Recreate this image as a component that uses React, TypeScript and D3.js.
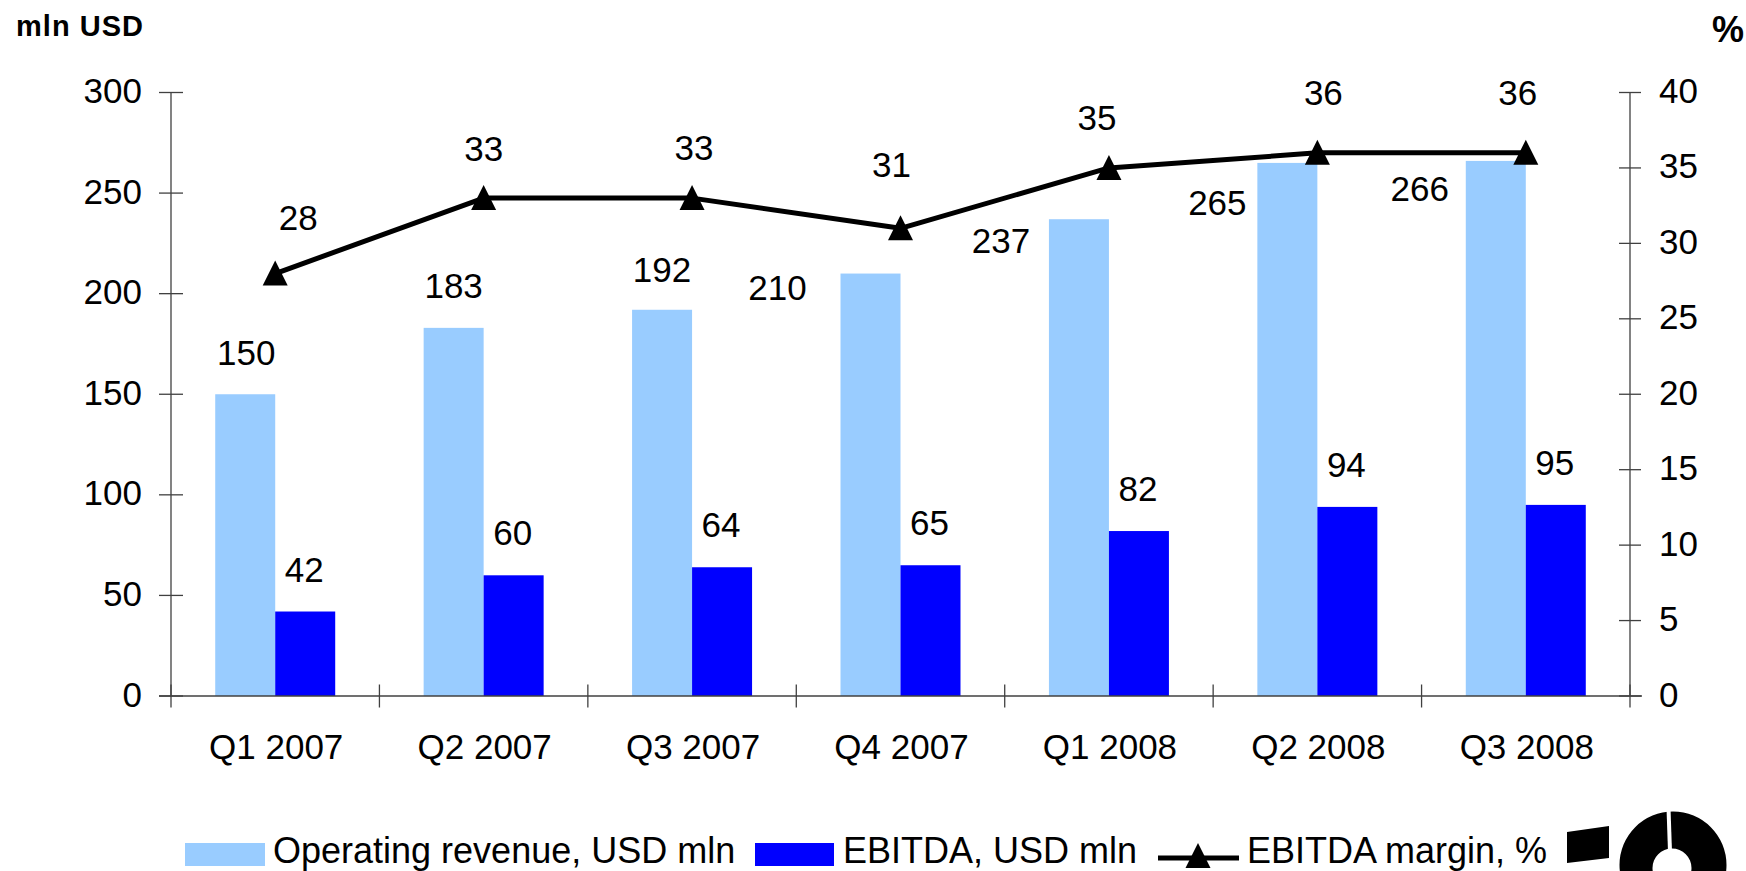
import React from 'react';
import * as d3 from 'd3';

const categories = ['Q1 2007', 'Q2 2007', 'Q3 2007', 'Q4 2007', 'Q1 2008', 'Q2 2008', 'Q3 2008'];
const revenue = [150, 183, 192, 210, 237, 265, 266];
const ebitda = [42, 60, 64, 65, 82, 94, 95];
const margin = [28, 33, 33, 31, 35, 36, 36];
const leftTicks = [0, 50, 100, 150, 200, 250, 300];
const rightTicks = [0, 5, 10, 15, 20, 25, 30, 35, 40];
const seriesKeys = ['rev', 'ebitda'];

// label nudges (pixels) as placed in the original
const revenueLabelNudge = [[1, -42], [0, -42], [0, -40], [-93, 14], [-78, 21], [-70, 40], [-76, 28]];
const marginLabelNudge = [[23, -56], [0, -50], [2, -51], [-9, -64], [-12, -50], [6, -60], [-8, -60]];

const W = 1746, H = 871;
const LEFT = 171, RIGHT = 1630, TOP = 92.5, BOTTOM = 696;
const FONT = 'Liberation Sans, Arial, sans-serif';
const LIGHT = '#99CCFF', DARK = '#0000FF', AXIS = '#404040';

export default function App() {
  const x = d3.scaleBand<string>().domain(categories).range([LEFT, RIGHT]).paddingInner(0).paddingOuter(0);
  const bw = x.bandwidth();
  const xs = d3.scaleBand<string>().domain(seriesKeys).range([0, bw]).paddingInner(0).paddingOuter(0.737);
  const yL = d3.scaleLinear().domain([0, 300]).range([BOTTOM, TOP]);
  const yR = d3.scaleLinear().domain([0, 40]).range([BOTTOM, TOP]);
  const cx = (c: string) => (x(c) as number) + bw / 2;
  const line = d3.line<number>().x((_, i) => cx(categories[i])).y((d) => yR(d));
  const tri = 'M0,-13 L12.5,12 L-12.5,12 Z';
  const fs = 35;
  const base = (cy: number) => cy + 12.5;

  const boundaries = categories.map((c) => x(c) as number).concat([RIGHT]);

  return (
    <svg width={W} height={H} style={{ position: 'absolute', left: 0, top: 0, background: '#fff' }} fontFamily={FONT}>
      <rect width={W} height={H} fill="#fff" />
      {/* titles */}
      <text x={16} y={36} fontSize={29} fontWeight="bold" textLength={127} lengthAdjust="spacing">mln USD</text>
      <text x={1712} y={42} fontSize={36} fontWeight="bold">%</text>

      {/* bars */}
      {categories.map((c, i) => (
        <g key={c}>
          <rect x={(x(c) as number) + (xs('rev') as number)} y={yL(revenue[i])} width={xs.bandwidth()} height={BOTTOM - yL(revenue[i])} fill={LIGHT} />
          <rect x={(x(c) as number) + (xs('ebitda') as number)} y={yL(ebitda[i])} width={xs.bandwidth()} height={BOTTOM - yL(ebitda[i])} fill={DARK} />
        </g>
      ))}

      {/* axes */}
      <line x1={LEFT} x2={LEFT} y1={TOP} y2={BOTTOM} stroke={AXIS} strokeWidth={1.3} />
      <line x1={RIGHT} x2={RIGHT} y1={TOP} y2={BOTTOM} stroke={AXIS} strokeWidth={1.3} />
      <line x1={LEFT - 12} x2={RIGHT + 12} y1={BOTTOM} y2={BOTTOM} stroke={AXIS} strokeWidth={1.3} />
      {leftTicks.map((t) => (
        <g key={'l' + t}>
          <line x1={LEFT - 12} x2={LEFT + 12} y1={yL(t)} y2={yL(t)} stroke={AXIS} strokeWidth={1.3} />
          <text x={142} y={base(yL(t) - 2)} fontSize={fs} textAnchor="end">{t}</text>
        </g>
      ))}
      {rightTicks.map((t) => (
        <g key={'r' + t}>
          <line x1={RIGHT - 11} x2={RIGHT + 11} y1={yR(t)} y2={yR(t)} stroke={AXIS} strokeWidth={1.3} />
          <text x={1659} y={base(yR(t) - 2)} fontSize={fs} textAnchor="start">{t}</text>
        </g>
      ))}
      {boundaries.map((b, i) => (
        <line key={'xb' + i} x1={b} x2={b} y1={BOTTOM - 11.5} y2={BOTTOM + 11.5} stroke={AXIS} strokeWidth={1.3} />
      ))}
      {categories.map((c) => (
        <text key={'xl' + c} x={cx(c) + 1} y={759} fontSize={fs} textAnchor="middle">{c}</text>
      ))}

      {/* line */}
      <path d={line(margin) || ''} fill="none" stroke="#000" strokeWidth={5} strokeLinejoin="round" />
      {margin.map((m, i) => (
        <path key={'t' + i} d={tri} transform={`translate(${cx(categories[i])},${yR(m)})`} fill="#000" />
      ))}

      {/* data labels */}
      {categories.map((c, i) => {
        const lx = (x(c) as number) + (xs('rev') as number) + xs.bandwidth() / 2;
        return (
          <text key={'rl' + i} x={lx + revenueLabelNudge[i][0]} y={base(yL(revenue[i]) + revenueLabelNudge[i][1])} fontSize={fs} textAnchor="middle">{revenue[i]}</text>
        );
      })}
      {categories.map((c, i) => {
        const lx = (x(c) as number) + (xs('ebitda') as number) + xs.bandwidth() / 2;
        return (
          <text key={'el' + i} x={lx - 1} y={base(yL(ebitda[i]) - 42.5)} fontSize={fs} textAnchor="middle">{ebitda[i]}</text>
        );
      })}
      {categories.map((c, i) => (
        <text key={'ml' + i} x={cx(c) + marginLabelNudge[i][0]} y={base(yR(margin[i]) + marginLabelNudge[i][1])} fontSize={fs} textAnchor="middle">{margin[i]}</text>
      ))}

      {/* legend */}
      <rect x={185} y={843} width={80} height={23} fill={LIGHT} />
      <text x={273} y={863} fontSize={36}>Operating revenue, USD mln</text>
      <rect x={755} y={843} width={79} height={23} fill={DARK} />
      <text x={843} y={863} fontSize={36}>EBITDA, USD mln</text>
      <line x1={1158} x2={1239} y1={858} y2={858} stroke="#000" strokeWidth={5} />
      <path d={tri} transform="translate(1198,856)" fill="#000" />
      <text x={1247} y={863} fontSize={36}>EBITDA margin, %</text>

      {/* logo */}
      <polygon points="1567,832 1609,826 1609,858 1567,863" fill="#000" />
      <path d="M1673,865 m-53.5,0 a53.5,53.5 0 1,0 107,0 a53.5,53.5 0 1,0 -107,0 Z M1672,868 m-19.5,0 a19.5,19.5 0 1,1 39,0 a19.5,19.5 0 1,1 -39,0 Z" fill="#000" fillRule="evenodd" />
      <line x1={1668.5} y1={808} x2={1670} y2={852} stroke="#fff" strokeWidth={4} />
    </svg>
  );
}
